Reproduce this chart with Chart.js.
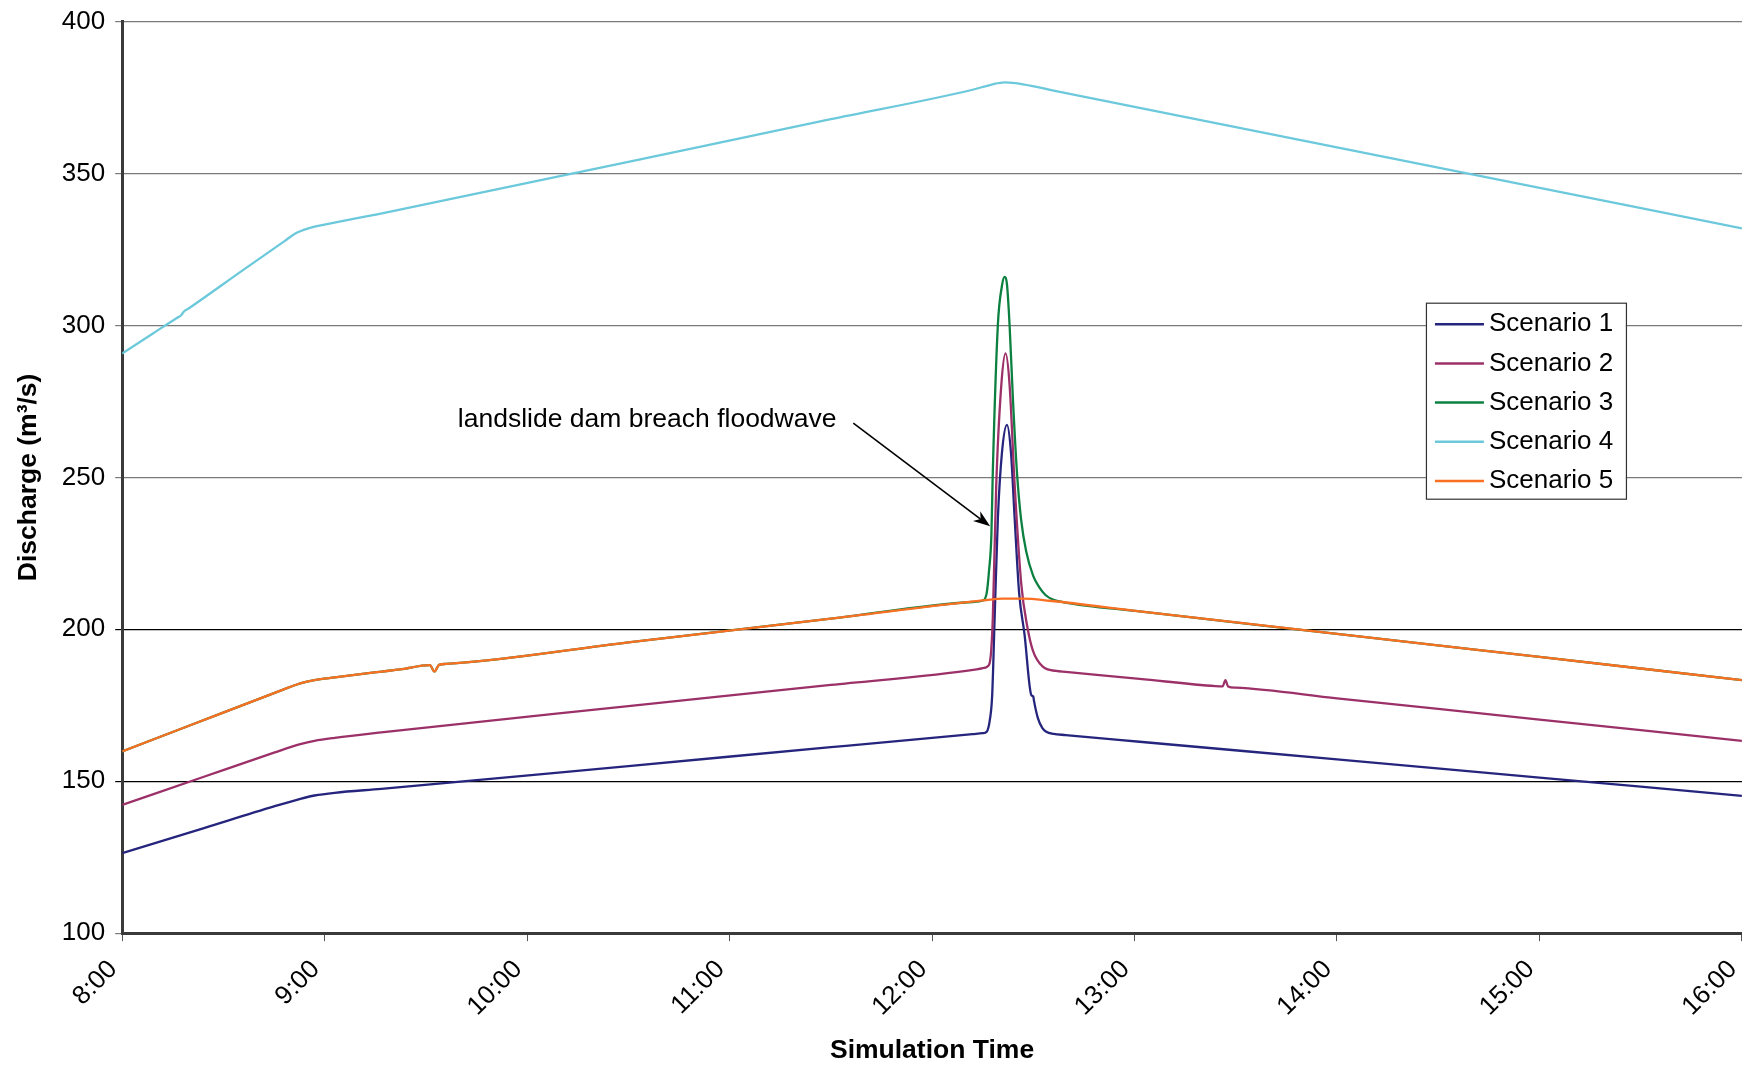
<!DOCTYPE html>
<html>
<head>
<meta charset="utf-8">
<script src="https://cdn.jsdelivr.net/npm/chart.js@4.4.0/dist/chart.umd.min.js"></script>
<style>
  html, body { margin: 0; padding: 0; background: #fff; overflow: hidden; }
  #wrap { position: relative; width: 1777px; height: 1067px; }
</style>
</head>
<body>
<div id="wrap"><canvas id="flow_canvas"></canvas></div>
<script>
// time in decimal hours, discharge in m3/s
const scenarioNames = ['Scenario 1', 'Scenario 2', 'Scenario 3', 'Scenario 4', 'Scenario 5'];
const xTickLabels = ['8:00', '9:00', '10:00', '11:00', '12:00', '13:00', '14:00', '15:00', '16:00'];

const s1Time = [8.00, 8.40, 8.75, 8.88, 8.95, 9.05, 9.28, 10.50, 11.50, 12.20, 12.25, 12.27, 12.285, 12.297, 12.309, 12.325, 12.345, 12.37, 12.39, 12.408, 12.43, 12.457, 12.49, 12.50, 12.503, 12.523, 12.545, 12.564, 12.60, 12.66, 13.025, 14.0, 15.0, 16.0];
const s1Flow = [126.3, 134.5, 141.7, 144.2, 145.3, 146.2, 147.5, 155.0, 161.2, 165.5, 165.8, 166.3, 170.0, 178.4, 203.6, 236.5, 258.0, 267.3, 258.0, 236.5, 212.0, 198.2, 178.4, 177.9, 176.6, 170.7, 167.5, 166.3, 165.6, 165.2, 163.0, 157.2, 151.2, 145.2];

const s2Time = [8.00, 8.40, 8.75, 8.88, 8.95, 9.05, 9.28, 10.50, 11.50, 12.22, 12.251, 12.27, 12.284, 12.292, 12.30, 12.317, 12.342, 12.363, 12.383, 12.408, 12.441, 12.47, 12.498, 12.547, 12.613, 12.66, 13.025, 13.40, 13.435, 13.449, 13.462, 13.50, 14.0, 15.0, 16.0];
const s2Flow = [142.2, 151.4, 159.4, 162.2, 163.3, 164.3, 166.1, 174.7, 181.7, 186.8, 187.2, 187.6, 188.8, 193.0, 203.6, 247.5, 280.4, 290.8, 280.4, 247.5, 214.6, 201.0, 193.0, 187.7, 186.3, 186.0, 183.7, 181.3, 181.2, 183.3, 181.2, 180.8, 177.3, 170.3, 163.3];

const s3Time = [8.00, 8.362, 8.75, 8.88, 8.95, 9.05, 9.283, 9.372, 9.52, 9.542, 9.565, 9.60, 10.50, 11.50, 12.20, 12.251, 12.27, 12.281, 12.293, 12.30, 12.325, 12.345, 12.358, 12.37, 12.383, 12.40, 12.419, 12.44, 12.465, 12.50, 12.53, 12.56, 12.60, 12.65, 13.025, 14.0, 15.0, 16.0];
const s3Flow = [159.8, 169.1, 179.0, 182.2, 183.3, 184.2, 186.1, 186.8, 188.2, 186.1, 188.3, 188.6, 195.7, 203.5, 209.0, 209.5, 212.0, 219.0, 231.0, 251.9, 300.2, 313.0, 316.0, 313.5, 300.0, 275.0, 252.0, 236.0, 225.6, 217.5, 213.8, 211.3, 209.7, 208.9, 205.9, 198.5, 190.9, 183.3];

const s4Time = [8.00, 8.15, 8.27, 8.29, 8.305, 8.33, 8.60, 8.80, 8.855, 8.921, 9.00, 9.283, 10.50, 11.50, 12.20, 12.30, 12.36, 12.45, 12.60, 13.50, 14.50, 16.00];
const s4Flow = [290.8, 297.3, 302.5, 303.3, 304.6, 305.7, 318.4, 327.7, 330.3, 332.0, 333.2, 336.9, 353.9, 367.9, 377.6, 379.4, 380.0, 379.4, 377.3, 365.3, 352.0, 332.0];

const s5Time = [8.00, 8.362, 8.75, 8.88, 8.95, 9.05, 9.283, 9.372, 9.52, 9.542, 9.565, 9.60, 10.50, 11.50, 12.25, 12.35, 12.45, 12.58, 13.025, 14.0, 15.0, 16.0];
const s5Flow = [159.8, 169.1, 179.0, 182.2, 183.3, 184.2, 186.1, 186.8, 188.2, 186.1, 188.3, 188.6, 195.7, 203.5, 209.5, 210.1, 210.1, 209.4, 205.9, 198.5, 190.9, 183.3];

const lineColors = ['#25257d', '#9c3068', '#0c8040', '#6cc9db', '#f97022'];

// annotation text and arrow, in data units (hours, m3/s)
const noteText = 'landslide dam breach floodwave';
const notePos = [9.658, 269.0];
const arrowFrom = [11.611, 267.9];
const arrowTo = [12.287, 233.9];

const FONT = '"Liberation Sans", Arial, sans-serif';

function pairs(t, v) {
    return t.map((x, i) => ({ x: x, y: v[i] }));
}

const series = [[s1Time, s1Flow], [s2Time, s2Flow], [s3Time, s3Flow], [s4Time, s4Flow], [s5Time, s5Flow]];

const boxLegend = {
    id: 'boxLegend',
    afterDatasetsDraw(chart) {
        const ctx = chart.ctx;
        const area = chart.chartArea;
        const left = area.right - 316;
        const top = area.top + 281;
        ctx.save();
        ctx.fillStyle = '#fff';
        ctx.fillRect(left, top, 200, 196);
        ctx.strokeStyle = '#333';
        ctx.lineWidth = 1.2;
        ctx.strokeRect(left + 0.5, top + 0.5, 200, 196);
        ctx.font = '26px ' + FONT;
        ctx.textBaseline = 'middle';
        chart.data.datasets.forEach((ds, i) => {
            const y = top + 21.5 + i * 39.2;
            ctx.strokeStyle = ds.borderColor;
            ctx.lineWidth = 2.5;
            ctx.beginPath();
            ctx.moveTo(left + 9, y);
            ctx.lineTo(left + 58, y);
            ctx.stroke();
            ctx.fillStyle = '#000';
            ctx.fillText(ds.label, left + 63, y);
        });
        ctx.restore();
    }
};

const breachNote = {
    id: 'breachNote',
    afterDatasetsDraw(chart) {
        const ctx = chart.ctx;
        const xs = chart.scales.x, ys = chart.scales.y;
        ctx.save();
        ctx.font = '26.5px ' + FONT;
        ctx.fillStyle = '#000';
        ctx.textBaseline = 'middle';
        ctx.fillText(noteText, xs.getPixelForValue(notePos[0]), ys.getPixelForValue(notePos[1]));
        const x0 = xs.getPixelForValue(arrowFrom[0]), y0 = ys.getPixelForValue(arrowFrom[1]);
        const x1 = xs.getPixelForValue(arrowTo[0]), y1 = ys.getPixelForValue(arrowTo[1]);
        const a = Math.atan2(y1 - y0, x1 - x0);
        ctx.strokeStyle = '#000';
        ctx.lineWidth = 1.6;
        ctx.beginPath();
        ctx.moveTo(x0, y0);
        ctx.lineTo(x1 - 12 * Math.cos(a), y1 - 12 * Math.sin(a));
        ctx.stroke();
        ctx.beginPath();
        ctx.moveTo(x1, y1);
        ctx.lineTo(x1 - 17 * Math.cos(a) + 6 * Math.sin(a), y1 - 17 * Math.sin(a) - 6 * Math.cos(a));
        ctx.lineTo(x1 - 12 * Math.cos(a), y1 - 12 * Math.sin(a));
        ctx.lineTo(x1 - 17 * Math.cos(a) - 6 * Math.sin(a), y1 - 17 * Math.sin(a) + 6 * Math.cos(a));
        ctx.closePath();
        ctx.fillStyle = '#000';
        ctx.fill();
        ctx.restore();
    }
};

const flow = document.getElementById('flow_canvas');

new Chart(flow, {
    type: 'line',
    data: {
        datasets: series.map((s, i) => ({
            label: scenarioNames[i],
            data: pairs(s[0], s[1]),
            borderColor: lineColors[i],
            backgroundColor: lineColors[i],
            borderWidth: 2.3,
            pointRadius: 0,
            cubicInterpolationMode: 'monotone',
            order: scenarioNames.length - i
        }))
    },
    options: {
        responsive: true,
        maintainAspectRatio: false,
        animation: false,
        devicePixelRatio: 1,
        layout: { padding: { top: 0, left: 13, right: 0, bottom: 0 } },
        plugins: {
            legend: { display: false },
            tooltip: { enabled: false }
        },
        scales: {
            x: {
                type: 'linear',
                min: 8,
                max: 16,
                ticks: {
                    stepSize: 1,
                    minRotation: 45,
                    maxRotation: 45,
                    padding: 13,
                    labelOffset: -9,
                    color: '#000',
                    font: { family: FONT, size: 26 },
                    callback: (v) => xTickLabels[Math.round(v - 8)]
                },
                grid: { drawOnChartArea: false, drawTicks: true, tickLength: 8, color: '#555', tickWidth: 1 },
                border: { color: '#3a3a3a', width: 3 },
                title: {
                    display: true,
                    text: 'Simulation Time',
                    color: '#000',
                    font: { family: FONT, size: 26.5, weight: 'bold' },
                    padding: { top: 0, bottom: 0 }
                }
            },
            y: {
                min: 100,
                max: 400,
                ticks: {
                    stepSize: 50,
                    padding: 10,
                    color: '#000',
                    font: { family: FONT, size: 26, lineHeight: 0.9 }
                },
                grid: {
                    color: (c) => (c.tick && (c.tick.value === 150 || c.tick.value === 200)) ? '#000' : '#7a7a7a',
                    lineWidth: 1.2,
                    tickLength: 7
                },
                border: { color: '#3a3a3a', width: 3 },
                title: {
                    display: true,
                    text: 'Discharge (m³/s)',
                    color: '#000',
                    font: { family: FONT, size: 26.5, weight: 'bold' },
                    padding: { top: 0, bottom: 7 }
                }
            }
        }
    },
    plugins: [boxLegend, breachNote]
});
</script>
</body>
</html>
